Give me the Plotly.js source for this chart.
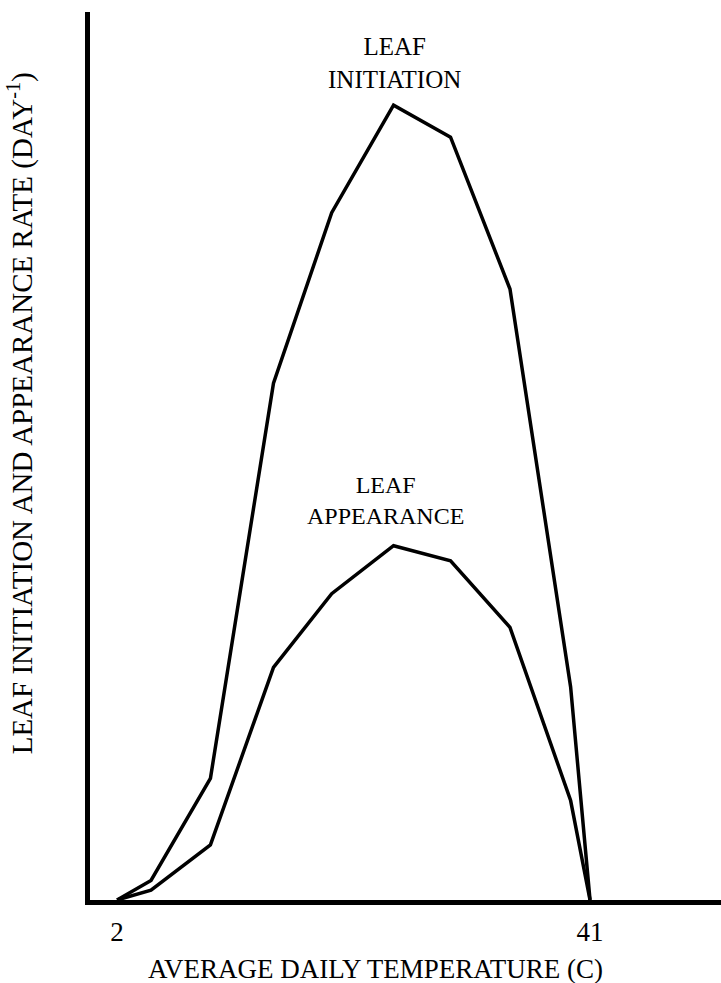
<!DOCTYPE html>
<html>
<head>
<meta charset="utf-8">
<script src="https://cdn.plot.ly/plotly-3.0.1.min.js"></script>
<style>html,body{margin:0;padding:0;background:#fff;}#chart{width:721px;height:983px;}</style>
</head>
<body>
<div id="chart"></div>
<script>
// Average daily temperature (C)
const temperature = [2, 4.8, 9.7, 14.9, 19.7, 24.8, 29.5, 34.4, 39.4, 41];
// Relative rates (arbitrary units, axis has no tick labels)
const leafInitiation = [0, 0.022, 0.137, 0.582, 0.774, 0.895, 0.859, 0.688, 0.240, 0];
const leafAppearance = [0, 0.011, 0.062, 0.262, 0.345, 0.399, 0.382, 0.307, 0.112, 0];
const xTickVals = [2, 41];
const xTickText = ['2', '41'];
const seriesLabels = ['LEAF<br>INITIATION', 'LEAF<br>APPEARANCE'];
const xTitle = 'AVERAGE DAILY TEMPERATURE (C)';
const yTitle = 'LEAF INITIATION AND APPEARANCE RATE (DAY<sup>-1</sup>)';

const font = 'Liberation Serif, Times New Roman, serif';

const traces = [
  {x: temperature, y: leafInitiation, mode: 'lines', line: {color: '#000', width: 3.5}, name: 'Leaf initiation', hoverinfo: 'skip'},
  {x: temperature, y: leafAppearance, mode: 'lines', line: {color: '#000', width: 3.5}, name: 'Leaf appearance', hoverinfo: 'skip'}
];

const layout = {
  width: 721, height: 983,
  margin: {l: 90, r: 0, t: 12, b: 83},
  paper_bgcolor: '#fff', plot_bgcolor: '#fff',
  showlegend: false,
  font: {family: font, color: '#000'},
  xaxis: {
    range: [-0.23, 51.8],
    tickvals: xTickVals, ticktext: xTickText,
    ticks: '', showgrid: false, zeroline: false,
    showline: true, linecolor: '#000', linewidth: 5,
    tickfont: {family: font, size: 27, color: '#000'},
    ticklabelstandoff: 4
  },
  yaxis: {
    range: [0, 1],
    showticklabels: false, ticks: '', showgrid: false, zeroline: false,
    showline: true, linecolor: '#000', linewidth: 5
  },
  annotations: [
    {text: seriesLabels[0], xref: 'paper', yref: 'paper', x: 0.483, y: 0.9426, xanchor: 'center', yanchor: 'middle', showarrow: false, font: {family: font, size: 25, color: '#000'}},
    {text: seriesLabels[1], xref: 'paper', yref: 'paper', x: 0.469, y: 0.450, xanchor: 'center', yanchor: 'middle', showarrow: false, font: {family: font, size: 24, color: '#000'}},
    {text: xTitle, xref: 'paper', yref: 'paper', x: 0.452, y: -0.0777, xanchor: 'center', yanchor: 'middle', showarrow: false, font: {family: font, size: 27, color: '#000'}},
    {text: yTitle, xref: 'paper', yref: 'paper', x: -0.111, y: 0.548, xanchor: 'center', yanchor: 'middle', textangle: -90, showarrow: false, font: {family: font, size: 29, color: '#000'}}
  ]
};

Plotly.newPlot('chart', traces, layout, {staticPlot: true, displayModeBar: false});
</script>
</body>
</html>
